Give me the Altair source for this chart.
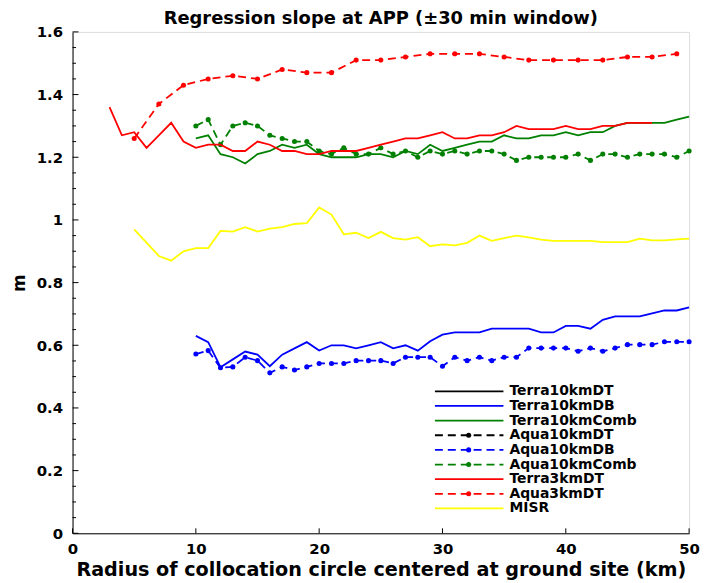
import altair as alt
import pandas as pd

# ---------------- data ----------------
names = ["Terra10kmDT", "Terra10kmDB", "Terra10kmComb", "Aqua10kmDT", "Aqua10kmDB",
         "Aqua10kmComb", "Terra3kmDT", "Aqua3kmDT", "MISR"]
colors = ["#000000", "#0000ff", "#008000", "#000000", "#0000ff",
          "#008000", "#ff0000", "#ff0000", "#ffff00"]
styles = ["solid", "solid", "solid", "dash", "dash", "dash", "solid", "dash", "solid"]

terra10_dt_x = []
terra10_dt_y = []
aqua10_dt_x = []
aqua10_dt_y = []

terra10_db_x = list(range(10, 51))
terra10_db_y = [0.63, 0.61, 0.53, 0.555, 0.58, 0.57, 0.533, 0.57, 0.59, 0.61,
                0.583, 0.60, 0.60, 0.59, 0.60, 0.61, 0.59, 0.60, 0.583, 0.613,
                0.634, 0.641, 0.641, 0.641, 0.653, 0.653, 0.653, 0.653, 0.641, 0.641,
                0.662, 0.662, 0.653, 0.681, 0.692, 0.692, 0.692, 0.702, 0.711, 0.711,
                0.721]

terra10_comb_x = list(range(10, 51))
terra10_comb_y = [1.26, 1.27, 1.21, 1.20, 1.18, 1.21, 1.22, 1.24, 1.23, 1.24,
                  1.21, 1.20, 1.20, 1.20, 1.21, 1.21, 1.20, 1.22, 1.21, 1.24,
                  1.22, 1.23, 1.24, 1.25, 1.25, 1.27, 1.26, 1.26, 1.27, 1.27,
                  1.28, 1.27, 1.28, 1.28, 1.30, 1.31, 1.31, 1.31, 1.31, 1.32,
                  1.33]

aqua10_db_x = list(range(10, 51))
aqua10_db_y = [0.572, 0.583, 0.528, 0.531, 0.562, 0.551, 0.512, 0.531, 0.521, 0.531,
               0.542, 0.542, 0.542, 0.551, 0.551, 0.551, 0.542, 0.562, 0.562, 0.562,
               0.533, 0.562, 0.551, 0.562, 0.551, 0.562, 0.562, 0.591, 0.591, 0.591,
               0.591, 0.581, 0.591, 0.581, 0.591, 0.602, 0.602, 0.602, 0.611, 0.611,
               0.611]

aqua10_comb_x = list(range(10, 51))
aqua10_comb_y = [1.30, 1.32, 1.24, 1.30, 1.31, 1.30, 1.27, 1.26, 1.25, 1.25,
                 1.22, 1.21, 1.23, 1.21, 1.21, 1.23, 1.21, 1.22, 1.20, 1.22,
                 1.21, 1.22, 1.21, 1.22, 1.22, 1.21, 1.19, 1.20, 1.20, 1.20,
                 1.20, 1.21, 1.19, 1.21, 1.21, 1.20, 1.21, 1.21, 1.21, 1.20,
                 1.22]

terra3_dt_x = list(range(3, 48))
terra3_dt_y = [1.36, 1.27, 1.28, 1.23, 1.27, 1.31, 1.25, 1.23, 1.24, 1.24,
               1.22, 1.22, 1.25, 1.24, 1.22, 1.22, 1.21, 1.21, 1.22, 1.22,
               1.22, 1.23, 1.24, 1.25, 1.26, 1.26, 1.27, 1.28, 1.26, 1.26,
               1.27, 1.27, 1.28, 1.30, 1.29, 1.29, 1.29, 1.30, 1.29, 1.29,
               1.30, 1.30, 1.31, 1.31, 1.31]

aqua3_dt_x = [5, 7, 9, 11, 13, 15, 17, 19, 21, 23, 25, 27, 29, 31, 33, 35, 37, 39,
              41, 43, 45, 47, 49]
aqua3_dt_y = [1.26, 1.37, 1.43, 1.45, 1.46, 1.45, 1.48, 1.47, 1.47, 1.51, 1.51, 1.52,
              1.53, 1.53, 1.53, 1.52, 1.51, 1.51, 1.51, 1.51, 1.52, 1.52, 1.53]

misr_x = [5] + list(range(7, 51))
misr_y = [0.97, 0.885, 0.87, 0.90, 0.91, 0.91, 0.965, 0.963, 0.977, 0.963,
          0.972, 0.977, 0.987, 0.99, 1.04, 1.017, 0.954, 0.959, 0.942, 0.962,
          0.942, 0.937, 0.945, 0.916, 0.922, 0.919, 0.927, 0.95, 0.933, 0.942,
          0.95, 0.944, 0.937, 0.933, 0.933, 0.933, 0.933, 0.929, 0.929, 0.929,
          0.94, 0.935, 0.935, 0.938, 0.94]

series = {
    "Terra10kmDT": (terra10_dt_x, terra10_dt_y),
    "Terra10kmDB": (terra10_db_x, terra10_db_y),
    "Terra10kmComb": (terra10_comb_x, terra10_comb_y),
    "Aqua10kmDT": (aqua10_dt_x, aqua10_dt_y),
    "Aqua10kmDB": (aqua10_db_x, aqua10_db_y),
    "Aqua10kmComb": (aqua10_comb_x, aqua10_comb_y),
    "Terra3kmDT": (terra3_dt_x, terra3_dt_y),
    "Aqua3kmDT": (aqua3_dt_x, aqua3_dt_y),
    "MISR": (misr_x, misr_y),
}

x_ticks = [0, 10, 20, 30, 40, 50]
y_major = [0, 0.2, 0.4, 0.6, 0.8, 1.0, 1.2, 1.4, 1.6]
y_minor = [round(0.05 * i, 2) for i in range(33)]

# ---------------- styling ----------------
FONT = "DejaVu Sans"
W, H = 621, 505
DASH = [8, 5]
LW = 1.8

rows = []
for n in names:
    xs, ys = series[n]
    for a, b in zip(xs, ys):
        rows.append({"series": n, "r": a, "m": b})
df = pd.DataFrame(rows)

x_enc = alt.X("r:Q", scale=alt.Scale(domain=[0, 50], nice=False, zero=False),
              axis=alt.Axis(values=x_ticks, ticks=False, grid=False, domainColor="black",
                            domainWidth=1, labelFont=FONT, labelFontWeight="bold",
                            labelFontSize=15, labelColor="black", labelPadding=8,
                            labelFlush=False,
                            title="Radius of collocation circle centered at ground site (km)",
                            titleFont=FONT, titleFontWeight="bold", titleFontSize=19.3,
                            titleColor="black", titlePadding=5))
y_enc = alt.Y("m:Q", scale=alt.Scale(domain=[0, 1.6], nice=False),
              axis=alt.Axis(values=y_major, format="~g", ticks=False, grid=False,
                            domainColor="black", domainWidth=1, labelFont=FONT,
                            labelFontWeight="bold", labelFontSize=15, labelColor="black",
                            labelPadding=10, labelFlush=False, title="m", titleFont=FONT,
                            titleFontWeight="bold", titleFontSize=17, titleColor="black",
                            titlePadding=8))

layers = []
for n, c, s in zip(names, colors, styles):
    sub = df[df["series"] == n]
    if len(sub) == 0:
        continue
    kw = dict(color=c, strokeWidth=LW)
    if s == "dash":
        kw["strokeDash"] = DASH
    layers.append(alt.Chart(sub).mark_line(**kw).encode(x=x_enc, y=y_enc))
    if s == "dash":
        layers.append(alt.Chart(sub).mark_circle(color=c, size=26, opacity=1)
                      .encode(x=x_enc, y=y_enc))

# inward ticks
xt = pd.DataFrame({"r": x_ticks})
layers.append(alt.Chart(xt).mark_rule(color="black", strokeWidth=1)
              .encode(x=x_enc, y=alt.value(H), y2=alt.value(H - 5)))
is_major = [any(abs(v - mj) < 1e-6 for mj in y_major) for v in y_minor]
yt_major = pd.DataFrame({"m": [v for v, k in zip(y_minor, is_major) if k]})
yt_minor = pd.DataFrame({"m": [v for v, k in zip(y_minor, is_major) if not k]})
layers.append(alt.Chart(yt_major).mark_rule(color="black", strokeWidth=1)
              .encode(y=y_enc, x=alt.value(0), x2=alt.value(6)))
layers.append(alt.Chart(yt_minor).mark_rule(color="black", strokeWidth=1)
              .encode(y=y_enc, x=alt.value(0), x2=alt.value(3.5)))

main = alt.layer(*layers)

# legend
leg = pd.DataFrame({"name": names, "color": colors, "style": styles,
                    "idx": list(range(len(names)))})
ly = alt.Y("idx:Q", scale=alt.Scale(domain=[0, len(names) - 1], range=[362, 480],
                                    nice=False, zero=False), axis=None)
leg_rule = alt.Chart(leg).mark_rule(strokeWidth=LW).encode(
    x=alt.value(365), x2=alt.value(434), y=ly,
    color=alt.Color("color:N", scale=None),
    strokeDash=alt.StrokeDash("style:N", scale=alt.Scale(domain=["solid", "dash"],
                                                          range=[[1, 0], DASH]),
                              legend=None))
leg_dot = alt.Chart(leg).transform_filter(alt.datum.style == "dash").mark_circle(
    size=26, opacity=1).encode(x=alt.value(399), y=ly,
                               color=alt.Color("color:N", scale=None))
leg_text = alt.Chart(leg).mark_text(align="left", baseline="middle", font=FONT,
                                    fontWeight="bold", fontSize=14, color="black").encode(
    x=alt.value(440), y=ly, text="name:N")
legend = alt.layer(leg_rule, leg_dot, leg_text)

chart = alt.layer(main, legend).resolve_scale(y="independent").properties(
    width=W, height=H,
    title=alt.TitleParams("Regression slope at APP (±30 min window)", font=FONT,
                          fontSize=18, fontWeight="bold", color="black",
                          anchor="middle", frame="group", offset=-3),
    autosize=alt.AutoSizeParams(type="none"),
    padding={"left": 65, "top": 22, "right": 14, "bottom": 50},
).configure_view(stroke=None).configure(background="white")

chart.save("out.html", embed_options={"renderer": "svg", "actions": False})
